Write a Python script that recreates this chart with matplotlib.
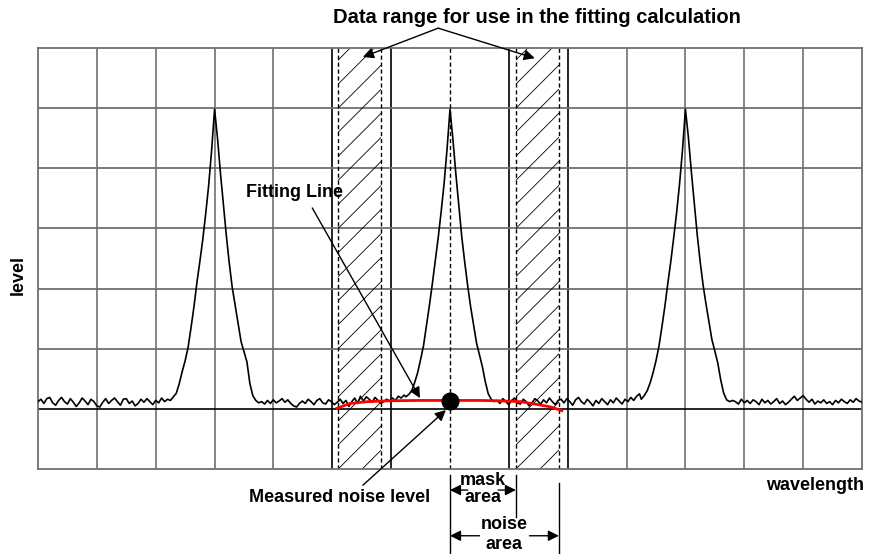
import numpy as np
import matplotlib
matplotlib.use("Agg")
import matplotlib.pyplot as plt
from matplotlib.patches import Rectangle

plt.rcParams['font.family'] = ['Liberation Sans', 'DejaVu Sans']

# spectrum trace, in grid units (14 columns x 7 rows)
noise_a = [1.12, 1.16, 1.09, 1.17, 1.19, 1.10, 1.06, 1.14, 1.19, 1.12, 1.08, 1.17,
           1.11, 1.04, 1.10, 1.18, 1.13, 1.07, 1.16, 1.12, 1.05, 1.03, 1.11, 1.17,
           1.09, 1.14, 1.18, 1.12, 1.06, 1.16, 1.17, 1.09, 1.13, 1.05, 1.09, 1.16,
           1.11, 1.17, 1.12, 1.07, 1.14, 1.10, 1.18, 1.12, 1.16]
noise_b = [1.12, 1.08, 1.14, 1.09, 1.15, 1.10, 1.13, 1.17, 1.11, 1.15, 1.09, 1.05,
           1.03, 1.09, 1.13, 1.09, 1.16, 1.12, 1.07, 1.14, 1.17, 1.10, 1.08, 1.15,
           1.12, 1.07, 1.11, 1.16, 1.09, 1.14, 1.04, 1.12, 1.18, 1.09, 1.21, 1.13,
           1.20, 1.16, 1.11, 1.19, 1.14, 1.09, 1.12, 1.16, 1.13, 1.18, 1.14, 1.21,
           1.18, 1.23]
noise_c = [1.14, 1.09, 1.17, 1.12, 1.07, 1.14, 1.18, 1.10, 1.08, 1.16, 1.12, 1.05,
           1.10, 1.17, 1.13, 1.08, 1.15, 1.10, 1.18, 1.12, 1.07, 1.14, 1.16, 1.10,
           1.17, 1.12, 1.06, 1.15, 1.19, 1.12, 1.08, 1.16, 1.11, 1.05, 1.14, 1.09,
           1.17, 1.12, 1.07, 1.15, 1.10, 1.18, 1.13, 1.08, 1.16, 1.12, 1.19, 1.14,
           1.21, 1.25]
noise_d = [1.14, 1.12, 1.08, 1.16, 1.10, 1.14, 1.09, 1.15, 1.12, 1.07, 1.16, 1.10,
           1.14, 1.08, 1.12, 1.17, 1.09, 1.13, 1.07, 1.11, 1.16, 1.21, 1.14, 1.18,
           1.22, 1.16, 1.11, 1.16, 1.08, 1.13, 1.10, 1.15, 1.09, 1.12, 1.07, 1.14,
           1.10, 1.16, 1.12, 1.09, 1.15, 1.11, 1.17, 1.13, 1.11]

peak_dx = [-0.75, -0.7, -0.65, -0.6, -0.55, -0.5, -0.45, -0.4, -0.35, -0.3, -0.25,
           -0.2, -0.15, -0.1, -0.05, 0.0, 0.05, 0.1, 0.15, 0.2, 0.25, 0.3, 0.35,
           0.4, 0.45, 0.5, 0.55, 0.6, 0.65, 0.7, 0.75]
peak1 = [1.14, 1.20, 1.26, 1.42, 1.62, 1.80, 2.02, 2.35, 2.70, 3.10, 3.45, 3.82,
         4.25, 4.72, 5.30, 5.98, 5.50, 4.92, 4.40, 3.88, 3.42, 3.02, 2.72, 2.42,
         2.12, 1.95, 1.78, 1.42, 1.22, 1.14, 1.10]
peak2 = [1.20, 1.24, 1.30, 1.44, 1.60, 1.82, 2.05, 2.38, 2.72, 3.08, 3.46, 3.85,
         4.28, 4.75, 5.32, 5.98, 5.48, 4.90, 4.38, 3.86, 3.44, 3.05, 2.70, 2.40,
         2.10, 1.90, 1.70, 1.45, 1.25, 1.16, 1.12]
peak3 = [1.16, 1.22, 1.30, 1.43, 1.60, 1.80, 2.04, 2.36, 2.70, 3.08, 3.44, 3.84,
         4.26, 4.74, 5.30, 5.98, 5.52, 4.95, 4.42, 3.90, 3.45, 3.06, 2.74, 2.44,
         2.15, 1.96, 1.76, 1.48, 1.26, 1.15, 1.12]
peak_centers = [3.0, 7.0, 11.0]

# fitting line (red curve)
fit_x = [5.08, 5.3, 5.6, 6.0, 6.5, 7.0, 7.5, 7.8, 8.2, 8.5, 8.72, 8.9]
fit_y = [1.01, 1.09, 1.12, 1.135, 1.14, 1.14, 1.14, 1.135, 1.12, 1.07, 1.03, 0.97]
noise_point = (7.0, 1.13)

fit_ranges = [(5.10, 5.83), (8.12, 8.85)]
mask_edge = 8.12
noise_edge = 8.85

# assemble trace
xs, ys = [], []
for seg, (a, b) in zip([noise_a, noise_b, noise_c, noise_d],
                       [(0.0, 2.2), (3.8, 6.22), (7.8, 10.22), (11.8, 14.0)]):
    xs.append(np.linspace(a, b, len(seg)))
    ys.append(np.array(seg))
for c, pk in zip(peak_centers, [peak1, peak2, peak3]):
    xs.append(c + np.array(peak_dx))
    ys.append(np.array(pk))
x = np.concatenate(xs)
y = np.concatenate(ys)
order = np.argsort(x)
x, y = x[order], y[order]

fig = plt.figure(figsize=(8.69, 5.54), dpi=100)
ax = fig.add_axes([38 / 869, 85 / 554, 824 / 869, 421 / 554])
ax.set_xlim(0, 14)
ax.set_ylim(0, 7)
ax.set_xticks([])
ax.set_yticks([])
for s in ax.spines.values():
    s.set_color('#707070')
    s.set_linewidth(1.3)

grid = '#707070'
for i in range(1, 14):
    if i == 7:
        continue
    col = 'black' if i in (5, 6, 8, 9) else grid
    ax.axvline(i, color=col, lw=1.2, zorder=1)
for j in range(2, 7):
    ax.axhline(j, color=grid, lw=1.3, zorder=1)
ax.axhline(1, color='black', lw=1.2, zorder=1)

# fitting ranges: sparse diagonal hatch at 45 degrees on screen
slope = (824 / 14) / (421 / 7)
for a, b in fit_ranges:
    box = Rectangle((a, 0), b - a, 7, facecolor='none', edgecolor='none')
    ax.add_patch(box)
    for y0 in np.arange(-2, 8, 0.4):
        ln, = ax.plot([a, b], [y0, y0 + (b - a) * slope], color='black',
                      lw=0.6, zorder=1)
        ln.set_clip_path(box)
    ax.axvline(a, color='black', lw=1, ls=(0, (3, 2)), zorder=2)
    ax.axvline(b, color='black', lw=1, ls=(0, (3, 2)), zorder=2)
ax.axvline(7.0, color='black', lw=1, ls=(0, (3, 2)), zorder=2)

ax.plot(x, y, color='black', lw=1.2, zorder=3)
ax.plot(fit_x, fit_y, color='red', lw=2, zorder=4)
ax.plot(*noise_point, 'o', color='black', ms=12, zorder=5)

bold = dict(fontweight='bold', fontsize=13)
arrow = dict(arrowstyle='-|>', color='black', lw=1, mutation_scale=16,
             shrinkA=0, shrinkB=0)

ax.text(8.48, 7.5, 'Data range for use in the fitting calculation',
        ha='center', va='center', fontweight='bold', fontsize=14.5)
ax.annotate('', xy=(5.52, 6.85), xytext=(6.8, 7.33), arrowprops=arrow,
            annotation_clip=False)
ax.annotate('', xy=(8.44, 6.83), xytext=(6.8, 7.33), arrowprops=arrow,
            annotation_clip=False)

ax.text(3.54, 4.6, 'Fitting Line', ha='left', va='center', **bold)
ax.annotate('', xy=(6.49, 1.18), xytext=(4.66, 4.34), arrowprops=arrow)

ax.text(5.12, -0.47, 'Measured noise level', ha='center', va='center',
        **bold)
ax.annotate('', xy=(6.93, 0.98), xytext=(5.52, -0.27), arrowprops=arrow,
            annotation_clip=False)

# mask / noise area brackets
ax.plot([7.0, 7.0], [-0.1, -1.41], color='black', lw=1, clip_on=False)
ax.plot([mask_edge, mask_edge], [-0.1, -0.8], color='black', lw=1, clip_on=False)
ax.plot([noise_edge, noise_edge], [-0.23, -1.41], color='black', lw=1,
        clip_on=False)
ax.annotate('', xy=(7.0, -0.35), xytext=(7.3, -0.35), arrowprops=arrow,
            annotation_clip=False)
ax.annotate('', xy=(mask_edge, -0.35), xytext=(mask_edge - 0.3, -0.35),
            arrowprops=arrow, annotation_clip=False)
ax.text((7.0 + mask_edge) / 2, -0.19, 'mask', ha='center', va='center', **bold)
ax.text((7.0 + mask_edge) / 2, -0.48, 'area', ha='center', va='center', **bold)
ax.annotate('', xy=(7.0, -1.11), xytext=(7.5, -1.11), arrowprops=arrow,
            annotation_clip=False)
ax.annotate('', xy=(noise_edge, -1.11), xytext=(noise_edge - 0.5, -1.11),
            arrowprops=arrow, annotation_clip=False)
ax.text((7.0 + noise_edge) / 2, -0.93, 'noise', ha='center', va='center', **bold)
ax.text((7.0 + noise_edge) / 2, -1.26, 'area', ha='center', va='center', **bold)

ax.text(13.2, -0.27, 'wavelength', ha='center', va='center', **bold)
ax.text(-0.33, 3.22, 'level', ha='center', va='center', rotation=90, **bold)

fig.savefig('out.png', dpi=100)
